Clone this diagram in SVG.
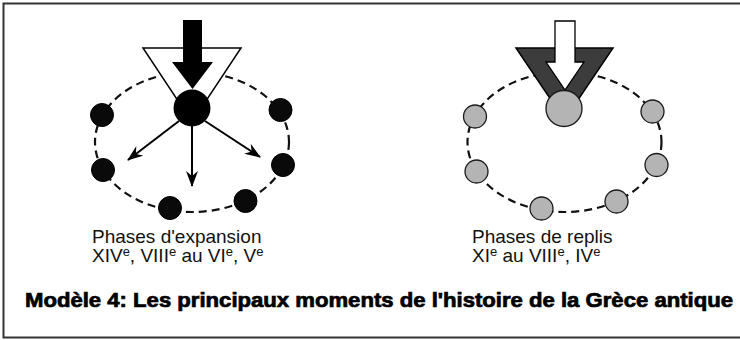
<svg xmlns="http://www.w3.org/2000/svg" width="740" height="340" viewBox="0 0 740 340">
<defs>
<style>
.orbit{fill:none;stroke:#111;stroke-width:2.2;stroke-dasharray:8 5}
.dot{fill:#0a0a0a;stroke:#000;stroke-width:1}
.gdot{fill:#b4b4b4;stroke:#1a1a1a;stroke-width:1.3}
.lbl{font-family:"Liberation Sans",Arial,sans-serif;font-size:19px;fill:#111}
.sup{font-size:13px}
.title{font-family:"Liberation Sans",Arial,sans-serif;font-size:20px;font-weight:bold;fill:#000;stroke:#000;stroke-width:0.7}
.spoke{stroke:#000;stroke-width:2;fill:none;marker-end:url(#barb)}
</style>
<marker id="barb" viewBox="0 0 16 12" refX="15" refY="6" markerWidth="16" markerHeight="12" markerUnits="userSpaceOnUse" orient="auto">
<path d="M0,0 L16,6 L0,12 L5,6 Z" fill="#000"/>
</marker>
</defs>
<rect x="0" y="0" width="740" height="340" fill="#fff"/>
<rect x="3.5" y="3.5" width="745" height="334" fill="none" stroke="#333" stroke-width="2"/>

<g id="expansion">
<ellipse class="orbit" cx="192" cy="142" rx="97" ry="70"/>
<polygon points="143,48 241,48 192,122" fill="#fff" stroke="#000" stroke-width="1.5"/>
<polygon points="183,20 202,20 202,62 213,62 192.5,89 172,62 183,62" fill="#000"/>
<circle cx="192" cy="108" r="18.5" fill="#000"/>
<circle class="dot" cx="102" cy="115" r="11.5"/>
<circle class="dot" cx="103" cy="170" r="11.5"/>
<circle class="dot" cx="170" cy="208" r="11.5"/>
<circle class="dot" cx="245.5" cy="201" r="11.5"/>
<circle class="dot" cx="283" cy="165" r="11.5"/>
<circle class="dot" cx="280.5" cy="110" r="11.5"/>
</g>

<g id="connectors">
<line class="spoke" x1="179" y1="121" x2="128" y2="160"/>
<line class="spoke" x1="192" y1="126" x2="192" y2="186"/>
<line class="spoke" x1="205" y1="121" x2="260" y2="157"/>
</g>

<g id="replis">
<ellipse class="orbit" cx="564.5" cy="142" rx="97" ry="70"/>
<polygon points="516,48 613,48 564.5,120" fill="#3c3c3c" stroke="#000" stroke-width="1.5"/>
<polygon points="555,21 575,21 575,62 584,62 565,90 546,62 555,62" fill="#fff" stroke="#000" stroke-width="1.3"/>
<circle class="gdot" cx="564" cy="108.5" r="18"/>
<circle class="gdot" cx="475" cy="116.5" r="11.5"/>
<circle class="gdot" cx="476.5" cy="171.5" r="11.5"/>
<circle class="gdot" cx="541.5" cy="208.5" r="11.5"/>
<circle class="gdot" cx="616.5" cy="201.5" r="11.5"/>
<circle class="gdot" cx="656.5" cy="165" r="11.5"/>
<circle class="gdot" cx="652.5" cy="111.5" r="11.5"/>
</g>

<g id="label-expansion">
<text class="lbl" x="92" y="243">Phases d'expansion</text>
<text class="lbl" x="92" y="262">XIV<tspan class="sup" dy="-6">e</tspan><tspan dy="6">, VIII</tspan><tspan class="sup" dy="-6">e</tspan><tspan dy="6"> au VI</tspan><tspan class="sup" dy="-6">e</tspan><tspan dy="6">, V</tspan><tspan class="sup" dy="-6">e</tspan></text>
</g>
<g id="label-replis">
<text class="lbl" x="472" y="243">Phases de replis</text>
<text class="lbl" x="472" y="262">XI<tspan class="sup" dy="-6">e</tspan><tspan dy="6"> au VIII</tspan><tspan class="sup" dy="-6">e</tspan><tspan dy="6">, IV</tspan><tspan class="sup" dy="-6">e</tspan></text>
</g>
<text class="title" x="25" y="307" textLength="708" lengthAdjust="spacingAndGlyphs">Modèle 4: Les principaux moments de l'histoire de la Grèce antique</text>
</svg>
